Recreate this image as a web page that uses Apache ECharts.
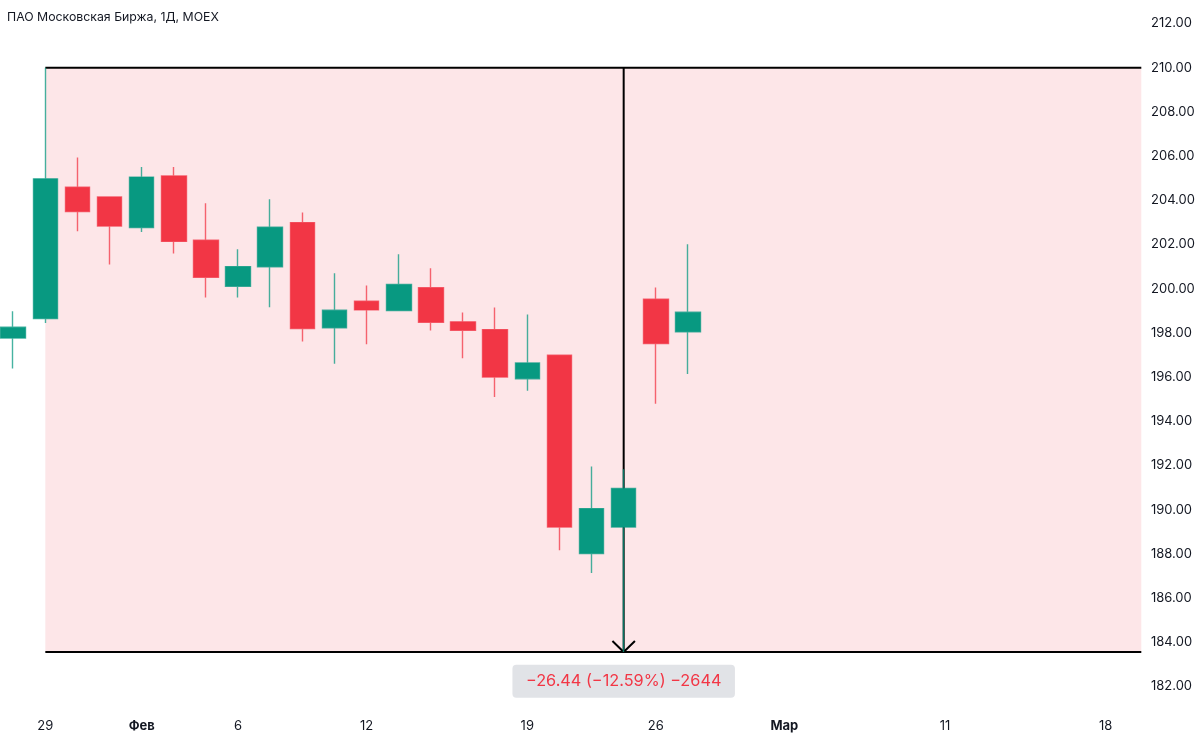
<!DOCTYPE html>
<html>
<head>
<meta charset="utf-8">
<title>MOEX</title>
<style>
html,body{margin:0;padding:0;background:#fff;}
#main{width:1200px;height:737px;}
</style>
<script src="https://cdn.jsdelivr.net/npm/echarts@6/dist/echarts.min.js"></script>
</head>
<body>
<div id="main"></div>
<script>
// trading days, the last ones are only there to give room on the right
var days = ['01-26','01-29','01-30','01-31','02-01','02-02','02-05','02-06','02-07','02-08','02-09',
    '02-12','02-13','02-14','02-15','02-16','02-19','02-20','02-21','02-22','02-26','02-27','02-28','02-29',
    '03-01','03-04','03-05','03-06','03-07','03-11','03-12','03-13','03-14','03-15','03-18','03-19','03-20'];
var opens  = [197.77,198.65,204.59,204.15,202.77,205.10,202.19,200.11,200.99,202.99,198.23,199.43,199.01,200.04,198.50,198.15,195.92,196.99,188.02,189.22,199.52,198.05];
var closes = [198.26,204.97,203.49,202.84,205.05,202.14,200.52,201.00,202.78,198.20,199.03,199.04,200.19,198.48,198.12,196.00,196.64,189.22,190.05,190.96,197.52,198.94];
var lows   = [196.39,198.45,202.60,201.10,202.56,201.59,199.60,199.60,199.16,197.61,196.60,197.49,199.01,198.11,196.85,195.10,195.38,188.17,187.14,183.56,194.79,196.14];
var highs  = [198.98,210.00,205.94,204.15,205.51,205.51,203.87,201.79,204.05,203.45,200.70,200.14,201.56,200.93,198.92,199.15,198.83,196.99,191.95,191.83,200.05,202.01];

// labels under the axis, months are bold
var tickLabels = {'01-29':'29','02-01':'Фев','02-06':'6','02-12':'12','02-19':'19','02-26':'26','03-01':'Мар','03-11':'11','03-18':'18'};
var monthLabels = ['Фев','Мар'];

// the drawn measure: from bar 1 to the far right, price 210 down to 183.56
var measureLeft = 1, measureRight = 35.11, measureMid = 19;
var priceTop = 210, priceBottom = 183.56;
var arrowHalf = 0.35, arrowRise = 0.5;
var measureText = '−26.44 (−12.59%) −2644';
var measureLabelPrice = 182.24;

var textColor = '#131722';
var upColor = '#089981', downColor = '#f23645';
var fontName = 'Inter, "Noto Sans", sans-serif';

var candles = [];
for (var i = 0; i < opens.length; i++) {
    candles.push([opens[i], closes[i], lows[i], highs[i]]);
}

function blackLine(points, z) {
    return {
        type: 'line',
        xAxisIndex: 1,
        yAxisIndex: 0,
        data: points,
        symbol: 'none',
        silent: true,
        z: z,
        lineStyle: {color: '#000', width: 2}
    };
}

var fillSeries = blackLine([], 1);
fillSeries.markArea = {
    silent: true,
    itemStyle: {color: '#fde6e8', opacity: 1},
    data: [[{coord: [measureLeft, priceTop]}, {coord: [measureRight, priceBottom]}]]
};

var mainChart = echarts.init(document.getElementById('main'));
mainChart.setOption({
    backgroundColor: '#fff',
    animation: false,
    textStyle: {fontFamily: fontName},
    title: {
        text: 'ПАО Московская Биржа, 1Д, MOEX',
        left: 2,
        top: 6,
        textStyle: {fontFamily: fontName, fontSize: 12.3, fontWeight: 'normal', color: textColor}
    },
    grid: {left: 13.2, top: 23.5, width: 1156.7, height: 663},
    xAxis: [{
        type: 'category',
        boundaryGap: false,
        data: days,
        axisLine: {show: false},
        axisTick: {show: false},
        splitLine: {show: false},
        axisLabel: {
            interval: 0,
            margin: 33,
            hideOverlap: false,
            fontSize: 13,
            color: textColor,
            fontFamily: fontName,
            formatter: function (value) {
                var label = tickLabels[value] || '';
                return monthLabels.indexOf(label) >= 0 ? '{month|' + label + '}' : label;
            },
            rich: {month: {fontWeight: 'bold', fontSize: 13, color: textColor, fontFamily: fontName}}
        }
    }, {
        type: 'value',
        show: false,
        min: 0,
        max: 36
    }],
    yAxis: {
        type: 'value',
        position: 'right',
        min: 182,
        max: 212,
        interval: 2,
        axisLine: {show: false},
        axisTick: {show: false},
        splitLine: {show: false},
        axisLabel: {
            margin: -18.9,
            fontSize: 13,
            color: textColor,
            fontFamily: fontName,
            formatter: function (value) { return value.toFixed(2); }
        }
    },
    series: [
        fillSeries,
        blackLine([[measureLeft, priceTop], [measureRight, priceTop]], 2),
        blackLine([[measureLeft, priceBottom], [measureRight, priceBottom]], 2),
        blackLine([[measureMid, priceTop], [measureMid, priceBottom]], 2),
        blackLine([[measureMid - arrowHalf, priceBottom + arrowRise], [measureMid, priceBottom], [measureMid + arrowHalf, priceBottom + arrowRise]], 2),
        {
            type: 'candlestick',
            data: candles,
            barWidth: 25,
            clip: false,
            z: 3,
            silent: true,
            itemStyle: {
                color: upColor,
                color0: downColor,
                borderColor: 'rgba(8,153,129,0.75)',
                borderColor0: 'rgba(242,54,69,0.75)',
                borderWidth: 1.4
            }
        },
        {
            type: 'scatter',
            xAxisIndex: 1,
            yAxisIndex: 0,
            data: [[measureMid, measureLabelPrice]],
            symbolSize: 1,
            silent: true,
            z: 4,
            itemStyle: {color: 'rgba(0,0,0,0)', opacity: 1},
            label: {
                show: true,
                position: 'inside',
                formatter: measureText,
                fontSize: 16.3,
                fontFamily: fontName,
                color: downColor,
                textBorderWidth: 0,
                backgroundColor: '#e1e3e7',
                borderRadius: 4,
                padding: [8.5, 13.5]
            }
        }
    ]
});
</script>
</body>
</html>
